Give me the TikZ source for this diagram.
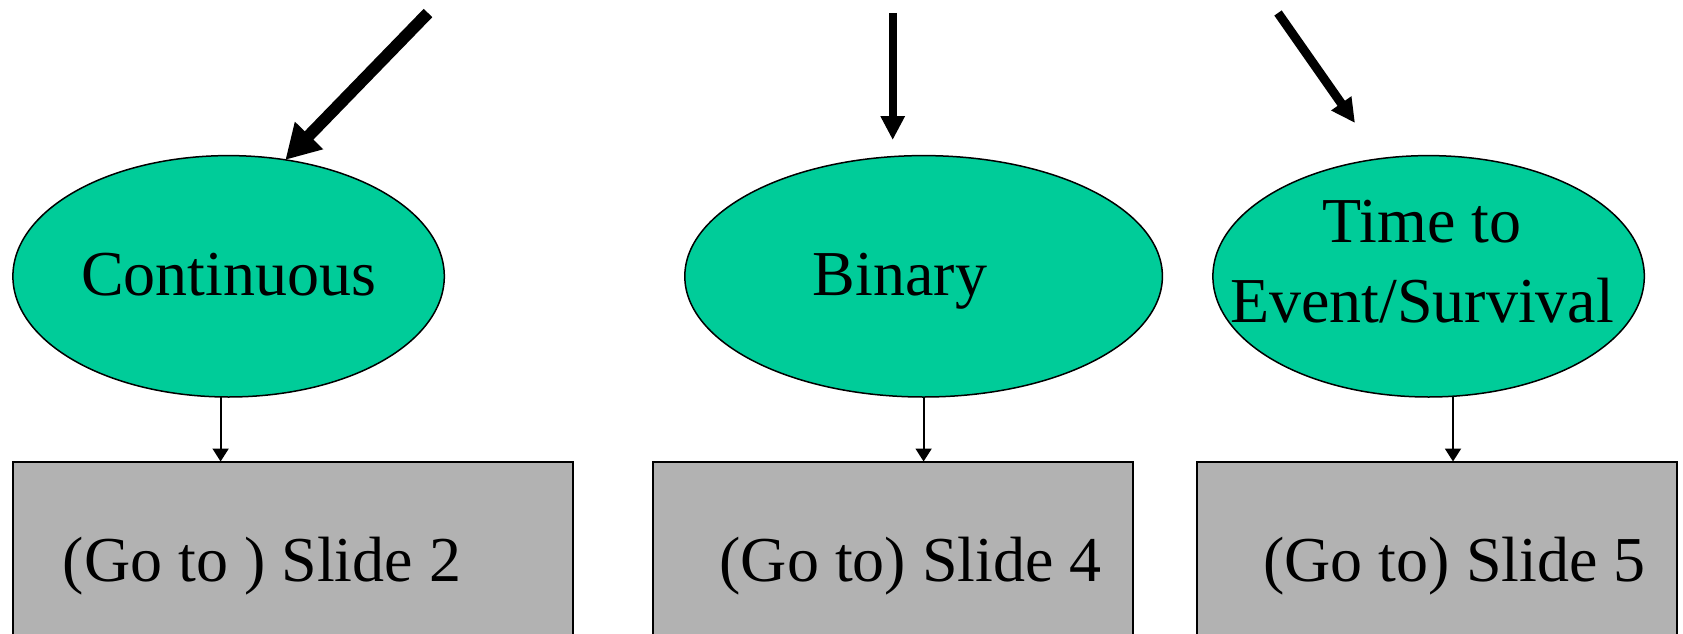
\documentclass[tikz,border=0pt]{standalone}
\usepackage{fontspec}
\setmainfont{Liberation Serif}
\usetikzlibrary{shapes.geometric,arrows.meta}
\definecolor{ovalgreen}{RGB}{0,204,153}
\definecolor{boxgray}{RGB}{178,178,178}
\begin{document}
\begin{tikzpicture}[x=1pt,y=-1pt,
  oval/.style={ellipse, draw, line width=1.5pt, fill=ovalgreen, inner sep=0pt, outer sep=0pt},
  slidebox/.style={rectangle, draw, line width=2pt, fill=boxgray, anchor=north west, inner sep=0pt, outer sep=0pt, minimum height=250pt},
  lbl/.style={font=\fontsize{64}{80}\selectfont, anchor=base, inner sep=0pt},
  bigarrow/.style={line width=#1, -{Triangle[length=34pt,width=37pt]}},
  midarrow/.style={line width=#1, -{Triangle[length=24pt,width=23pt]}},
  smallarrow/.style={line width=2pt, -{Triangle[length=13pt,width=16pt]}}
]
\useasboundingbox (0,0) rectangle (1683,634);
\clip (0,0) rectangle (1683,634);

% ovals
\node[oval, minimum width=431.4pt, minimum height=241.4pt] (e1) at (228.6,276.3) {};
\node[oval, minimum width=477.6pt, minimum height=241.4pt] (e2) at (923.6,276.3) {};
\node[oval, minimum width=431.4pt, minimum height=241.4pt] (e3) at (1428.6,276.3) {};

% boxes
\node[slidebox, minimum width=560.1pt] (b1) at (12.9,461.5) {};
\node[slidebox, minimum width=480.8pt] (b2) at (652.6,461.5) {};
\node[slidebox, minimum width=480.3pt] (b3) at (1196.7,461.5) {};

% labels
\node[lbl] (t1) at (228.6,295) {Continuous};
\node[lbl] (t2) at (900,295) {Binary};
\node[lbl, align=center] (t3) at (1422,322) {Time to\\Event/Survival};
\node[lbl] (s1t) at (262,581) {(Go to ) Slide 2};
\node[lbl] (s2t) at (910.7,581) {(Go to) Slide 4};
\node[lbl] (s3t) at (1454.5,581) {(Go to) Slide 5};

% incoming arrows
\coordinate (in1) at (428,13);
\coordinate (in2) at (892.7,13);
\coordinate (tip2) at (892.7,140);
\coordinate (in3) at (1278,13);
\coordinate (tip3) at (1355,123);
\draw[bigarrow=12pt] (in1) -- (e1.64);
\draw[midarrow=8pt] (in2) -- (tip2);
\draw[midarrow=9pt] (in3) -- (tip3);

% oval to box arrows
\draw[smallarrow] ([xshift=-8pt]e1.south) -- ([xshift=-8pt]e1.south |- b1.north);
\draw[smallarrow] (e2.south) -- (e2.south |- b2.north);
\draw[smallarrow] ([xshift=24.4pt]e3.south) -- ([xshift=24.4pt]e3.south |- b3.north);
\end{tikzpicture}
\end{document}
